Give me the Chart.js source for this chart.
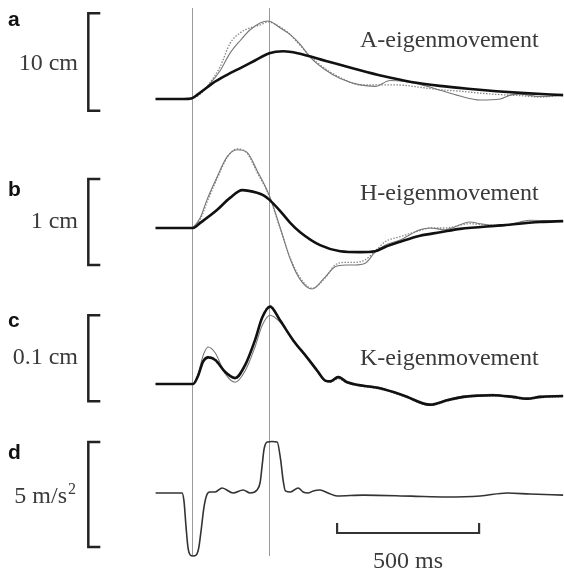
<!DOCTYPE html>
<html>
<head>
<meta charset="utf-8">
<script src="https://cdn.jsdelivr.net/npm/chart.js@4/dist/chart.umd.min.js"></script>
<style>
  html, body { margin: 0; padding: 0; background: #fff; }
  #wrap { width: 564px; height: 576px; }
</style>
</head>
<body>
<div id="wrap"><canvas id="chart" width="564" height="576"></canvas></div>
<script>
// time in ms from the start of the traces
const aThickT = [0, 100, 125, 150, 175, 200, 250, 300, 350, 400, 450, 500, 600, 700, 800, 900, 1000, 1100, 1200, 1300, 1435];
const aThick = [0, 0, 0.05, 0.5, 1.05, 1.6, 2.45, 3.2, 3.95, 4.7, 4.9, 4.7, 3.9, 3.1, 2.35, 1.75, 1.35, 1.05, 0.8, 0.6, 0.4];
const aThinT = [0, 100, 121, 157, 192, 227, 262, 298, 333, 368, 396, 438, 474, 509, 544, 597, 650, 720, 773, 826, 878, 931, 1002, 1072, 1143, 1213, 1248, 1283, 1354, 1435];
const aThin = [0, 0, 0, 0.6, 1.6, 2.9, 4.7, 6.0, 7.1, 7.8, 8.0, 7.3, 6.6, 5.6, 4.3, 3.0, 2.1, 1.45, 1.3, 1.9, 1.8, 1.5, 0.9, 0.3, -0.1, 0.0, 0.4, 0.5, 0.25, 0.4];
const aDot = [0, 0, 0, 0.5, 1.7, 3.3, 5.7, 6.8, 7.3, 7.6, 7.9, 7.4, 6.6, 5.5, 4.4, 3.1, 2.2, 1.45, 1.45, 1.45, 1.4, 1.2, 0.95, 0.8, 0.6, 0.45, 0.4, 0.35, 0.2, 0.4];

const bThickT = [0, 132, 157, 216, 262, 305, 357, 380, 400, 438, 474, 509, 579, 650, 720, 773, 808, 861, 931, 1002, 1072, 1213, 1354, 1435];
const bThick = [0, 0, 0.06, 0.21, 0.35, 0.44, 0.41, 0.38, 0.33, 0.2, 0.06, -0.05, -0.20, -0.27, -0.28, -0.27, -0.22, -0.16, -0.09, -0.05, -0.01, 0.03, 0.07, 0.08];
const bThinT = [0, 121, 157, 181, 216, 252, 287, 322, 357, 400, 438, 474, 509, 551, 597, 632, 670, 702, 738, 773, 808, 861, 931, 967, 1019, 1107, 1143, 1213, 1283, 1319, 1435];
const bThin = [0, 0, 0.12, 0.33, 0.59, 0.83, 0.91, 0.88, 0.67, 0.38, 0.01, -0.36, -0.6, -0.71, -0.57, -0.45, -0.43, -0.43, -0.41, -0.28, -0.20, -0.14, -0.02, 0.0, -0.02, 0.07, 0.05, 0.02, 0.07, 0.09, 0.08];
const bDot = [0, 0, 0.1, 0.3, 0.57, 0.82, 0.92, 0.87, 0.65, 0.37, 0.0, -0.35, -0.58, -0.70, -0.58, -0.43, -0.40, -0.40, -0.37, -0.27, -0.16, -0.10, -0.03, 0.0, 0.0, 0.05, 0.04, 0.03, 0.06, 0.07, 0.08];

const cT = [0, 132, 150, 167, 185, 210, 245, 280, 315, 350, 375, 403, 438, 484, 533, 568, 597, 615, 643, 675, 790, 871, 967, 1026, 1083, 1188, 1259, 1308, 1354, 1435];
const cThick = [0, 0, 0.010, 0.026, 0.031, 0.028, 0.014, 0.007, 0.022, 0.051, 0.077, 0.090, 0.074, 0.051, 0.031, 0.016, 0.004, 0.003, 0.008, 0.002, -0.005, -0.013, -0.024, -0.019, -0.015, -0.013, -0.015, -0.017, -0.015, -0.014];
const cThin = [0, 0, 0.012, 0.033, 0.043, 0.036, 0.012, 0.002, 0.015, 0.043, 0.068, 0.080, 0.072, 0.052, 0.030, 0.015, 0.004, 0.004, 0.009, 0.002, -0.004, -0.013, -0.025, -0.018, -0.014, -0.012, -0.016, -0.018, -0.014, -0.014];
const cDot = [0, 0, 0.010, 0.027, 0.032, 0.029, 0.015, 0.006, 0.020, 0.050, 0.078, 0.091, 0.075, 0.050, 0.030, 0.015, 0.004, 0.002, 0.006, 0.001, -0.006, -0.014, -0.025, -0.020, -0.016, -0.014, -0.016, -0.018, -0.016, -0.015];

const dT = [0, 93, 100, 107, 114, 122, 132, 143, 152, 160, 170, 180, 190, 210, 234, 273, 308, 333, 357, 368, 375, 382, 393, 410, 428, 440, 449, 457, 475, 502, 519, 537, 555, 579, 607, 639, 731, 900, 1026, 1143, 1238, 1319, 1435];
const dAcc = [0, 0, -0.4, -1.6, -2.6, -2.95, -3.0, -2.95, -2.6, -1.8, -0.7, -0.1, 0.05, 0.05, 0.24, 0.0, 0.14, 0.0, 0.14, 0.5, 1.3, 2.1, 2.43, 2.45, 2.43, 1.6, 0.6, 0.1, 0.05, 0.24, 0.05, 0.0, 0.1, 0.14, 0.0, -0.14, -0.1, -0.15, -0.19, -0.14, 0, -0.05, -0.1];

const markerTimes = [127, 400];
const timeBar = [639, 1139]; // 500 ms

// panel layout (pixels) and scale bars
const W = 564, H = 576;
const panels = [
  { id: 'ya', zeroPx: 99, pxPerUnit: 9.75, barLow: -1.2, barValue: 10, letter: 'a', letterY: 26, unit: '10 cm', unitY: 70, name: 'A-eigenmovement', nameY: 47 },
  { id: 'yb', zeroPx: 228, pxPerUnit: 86, barLow: -0.43, barValue: 1, letter: 'b', letterY: 196, unit: '1 cm', unitY: 228, name: 'H-eigenmovement', nameY: 200 },
  { id: 'yc', zeroPx: 384, pxPerUnit: 860, barLow: -0.02, barValue: 0.1, letter: 'c', letterY: 327, unit: '0.1 cm', unitY: 364, name: 'K-eigenmovement', nameY: 365 },
  { id: 'yd', zeroPx: 493, pxPerUnit: 21, barLow: -2.57, barValue: 5, letter: 'd', letterY: 459, unit: '5 m/s', unitY: 503, name: '', nameY: 0 }
];
const barX = -237; // ms, position of the vertical scale bars
const serif = '24px "Liberation Serif", "DejaVu Serif", serif';

function pts(t, v) {
  return t.map((x, i) => ({ x: x, y: v[i] }));
}

function thick(t, v, axis) {
  return { data: pts(t, v), yAxisID: axis, borderColor: '#111', borderWidth: 2.6, order: 0 };
}
function thin(t, v, axis) {
  return { data: pts(t, v), yAxisID: axis, borderColor: '#777', borderWidth: 1.1, order: 1 };
}
function dotted(t, v, axis) {
  return { data: pts(t, v), yAxisID: axis, borderColor: '#888', borderWidth: 1.3, borderDash: [1.5, 1.5], order: 2 };
}

const datasets = [
  thick(aThickT, aThick, 'ya'), thin(aThinT, aThin, 'ya'), dotted(aThinT, aDot, 'ya'),
  thick(bThickT, bThick, 'yb'), thin(bThinT, bThin, 'yb'), dotted(bThinT, bDot, 'yb'),
  thick(cT, cThick, 'yc'), thin(cT, cThin, 'yc'), dotted(cT, cDot, 'yc'),
  { data: pts(dT, dAcc), yAxisID: 'yd', borderColor: '#333', borderWidth: 1.6, order: 0 }
];

const scales = {
  x: { type: 'linear', display: false, min: -548, max: 1438 }
};
panels.forEach(p => {
  scales[p.id] = {
    type: 'linear', display: false,
    min: -(H - p.zeroPx) / p.pxPerUnit,
    max: p.zeroPx / p.pxPerUnit
  };
});

const overlay = {
  id: 'overlay',
  beforeDatasetsDraw(chart) {
    const ctx = chart.ctx;
    const xs = chart.scales.x;
    ctx.save();
    ctx.strokeStyle = '#9a9a9a';
    ctx.lineWidth = 1;
    markerTimes.forEach(t => {
      const x = Math.round(xs.getPixelForValue(t)) + 0.5;
      ctx.beginPath();
      ctx.moveTo(x, 8);
      ctx.lineTo(x, 556);
      ctx.stroke();
    });
    ctx.restore();
  },
  afterDatasetsDraw(chart) {
    const ctx = chart.ctx;
    const xs = chart.scales.x;
    ctx.save();
    // vertical scale bars
    ctx.strokeStyle = '#222';
    ctx.lineWidth = 2.5;
    const bx = xs.getPixelForValue(barX);
    panels.forEach(p => {
      const ys = chart.scales[p.id];
      const top = ys.getPixelForValue(p.barLow + p.barValue);
      const bot = ys.getPixelForValue(p.barLow);
      ctx.beginPath();
      ctx.moveTo(bx + 12, top);
      ctx.lineTo(bx, top);
      ctx.lineTo(bx, bot);
      ctx.lineTo(bx + 12, bot);
      ctx.stroke();
    });
    // time scale bar
    const x0 = xs.getPixelForValue(timeBar[0]);
    const x1 = xs.getPixelForValue(timeBar[1]);
    ctx.lineWidth = 2.2;
    ctx.strokeStyle = '#333';
    ctx.beginPath();
    ctx.moveTo(x0, 523);
    ctx.lineTo(x0, 533);
    ctx.lineTo(x1, 533);
    ctx.lineTo(x1, 523);
    ctx.stroke();

    // texts
    ctx.fillStyle = '#3a3a3a';
    ctx.font = serif;
    ctx.textBaseline = 'alphabetic';
    ctx.textAlign = 'center';
    ctx.fillText((timeBar[1] - timeBar[0]) + ' ms', (x0 + x1) / 2, 568);

    panels.forEach(p => {
      ctx.fillStyle = '#3a3a3a';
      ctx.font = serif;
      ctx.textAlign = 'right';
      if (p.id === 'yd') {
        ctx.font = '16px "Liberation Serif", serif';
        ctx.fillText('2', 76, p.unitY - 9);
        ctx.font = serif;
        ctx.fillText(p.unit, 67, p.unitY);
      } else {
        ctx.fillText(p.unit, 78, p.unitY);
      }
      ctx.textAlign = 'left';
      if (p.name) ctx.fillText(p.name, 360, p.nameY);
      ctx.fillStyle = '#111';
      ctx.font = 'bold 21px "Liberation Sans", Arial, sans-serif';
      ctx.fillText(p.letter, 8, p.letterY);
    });
    ctx.restore();
  }
};

new Chart(document.getElementById('chart'), {
  type: 'line',
  data: { datasets: datasets },
  options: {
    responsive: false,
    animation: false,
    devicePixelRatio: 1,
    layout: { padding: 0 },
    elements: {
      point: { radius: 0 },
      line: { cubicInterpolationMode: 'monotone', fill: false }
    },
    plugins: { legend: { display: false }, tooltip: { enabled: false } },
    scales: scales
  },
  plugins: [overlay]
});
</script>
</body>
</html>
